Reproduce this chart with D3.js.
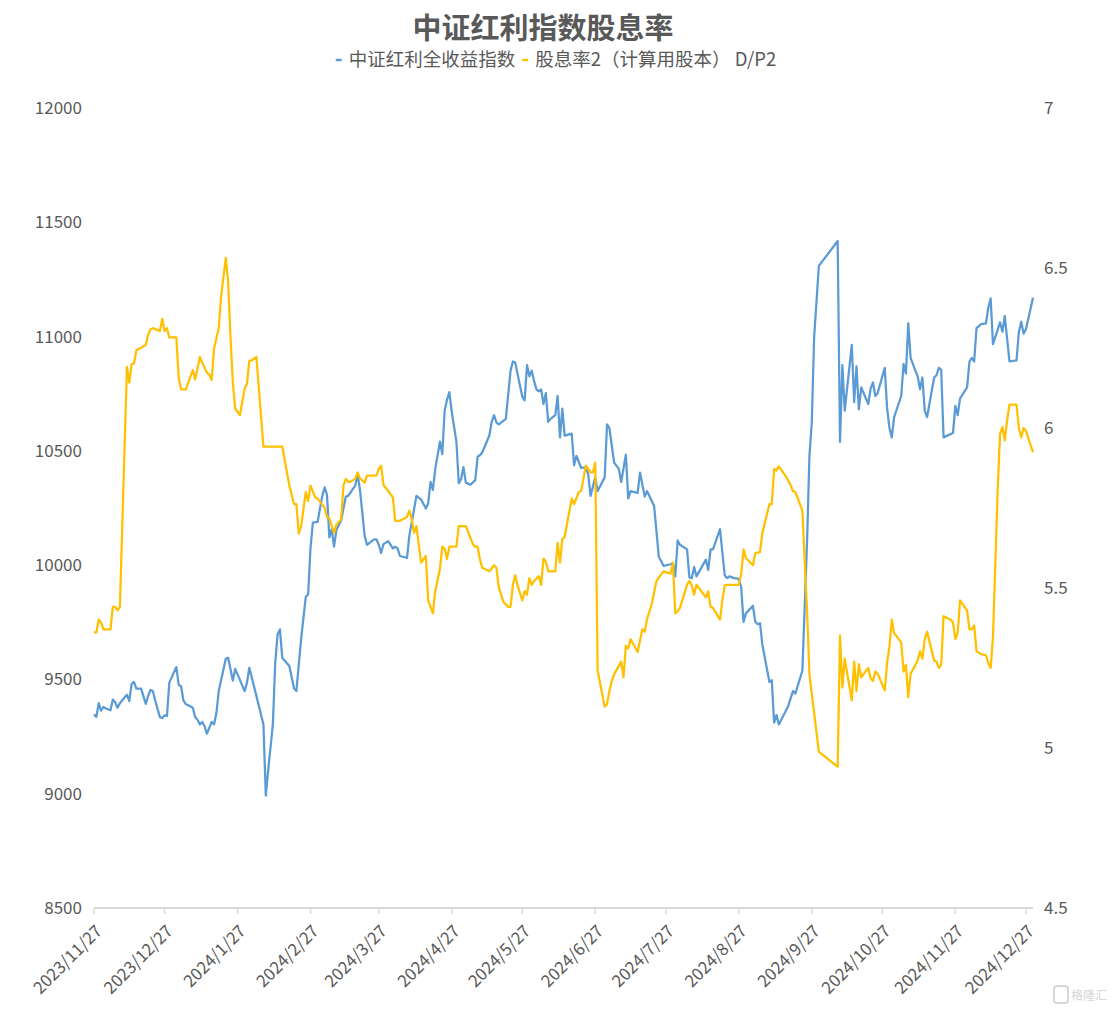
<!DOCTYPE html>
<html>
<head>
<meta charset="utf-8">
<script src="https://cdn.jsdelivr.net/npm/d3@7"></script>
<style>
body { margin: 0; background: #fff; }
text { font-family: "Noto Sans CJK SC", "Noto Sans", sans-serif; fill: #595959; }
</style>
</head>
<body>
<svg id="chart"></svg>
<script>
var width = 1115, height = 1009

var title = "中证红利指数股息率"
var seriesNames = ["中证红利全收益指数", "股息率2（计算用股本） D/P2"]
var seriesColors = ["#5b9bd5", "#ffc000"]

var xTickLabels = ["2023/11/27", "2023/12/27", "2024/1/27", "2024/2/27", "2024/3/27", "2024/4/27",
    "2024/5/27", "2024/6/27", "2024/7/27", "2024/8/27", "2024/9/27", "2024/10/27", "2024/11/27", "2024/12/27"]
var leftTicks = [8500, 9000, 9500, 10000, 10500, 11000, 11500, 12000]
var rightTicks = [4.5, 5, 5.5, 6, 6.5, 7]

// 中证红利全收益指数
var indexData = [
    ["2023-11-27", 9347], ["2023-11-28", 9336], ["2023-11-29", 9396], ["2023-11-30", 9363], ["2023-12-01", 9380],
    ["2023-12-02", 9373], ["2023-12-04", 9365], ["2023-12-05", 9412], ["2023-12-06", 9400], ["2023-12-07", 9376],
    ["2023-12-08", 9396], ["2023-12-10", 9421], ["2023-12-11", 9433], ["2023-12-12", 9405], ["2023-12-13", 9481],
    ["2023-12-14", 9489], ["2023-12-15", 9460], ["2023-12-17", 9460], ["2023-12-19", 9393], ["2023-12-20", 9428],
    ["2023-12-21", 9454], ["2023-12-22", 9449], ["2023-12-23", 9408], ["2023-12-25", 9335], ["2023-12-26", 9331],
    ["2023-12-27", 9343], ["2023-12-28", 9340], ["2023-12-29", 9486], ["2024-01-01", 9554], ["2024-01-02", 9476],
    ["2024-01-03", 9470], ["2024-01-04", 9408], ["2024-01-05", 9392], ["2024-01-08", 9376], ["2024-01-09", 9335],
    ["2024-01-10", 9324], ["2024-01-11", 9303], ["2024-01-12", 9314], ["2024-01-13", 9295], ["2024-01-14", 9263],
    ["2024-01-16", 9314], ["2024-01-17", 9303], ["2024-01-18", 9352], ["2024-01-19", 9449], ["2024-01-22", 9590],
    ["2024-01-23", 9595], ["2024-01-25", 9495], ["2024-01-26", 9546], ["2024-01-28", 9498], ["2024-01-30", 9449],
    ["2024-01-31", 9486], ["2024-02-01", 9551], ["2024-02-04", 9428], ["2024-02-07", 9303], ["2024-02-08", 8992],
    ["2024-02-09", 9101], ["2024-02-11", 9303], ["2024-02-12", 9570], ["2024-02-13", 9697], ["2024-02-14", 9719],
    ["2024-02-15", 9595], ["2024-02-18", 9559], ["2024-02-20", 9460], ["2024-02-21", 9449], ["2024-02-23", 9676],
    ["2024-02-25", 9862], ["2024-02-26", 9873], ["2024-02-27", 10076], ["2024-02-28", 10186], ["2024-03-01", 10189],
    ["2024-03-03", 10303], ["2024-03-04", 10340], ["2024-03-05", 10308], ["2024-03-06", 10121], ["2024-03-07", 10157],
    ["2024-03-08", 10081], ["2024-03-09", 10154], ["2024-03-11", 10195], ["2024-03-13", 10300], ["2024-03-14", 10303],
    ["2024-03-17", 10348], ["2024-03-18", 10397], ["2024-03-19", 10332], ["2024-03-21", 10129], ["2024-03-22", 10089],
    ["2024-03-25", 10113], ["2024-03-26", 10113], ["2024-03-27", 10089], ["2024-03-28", 10053], ["2024-03-29", 10092],
    ["2024-03-31", 10105], ["2024-04-02", 10073], ["2024-04-03", 10081], ["2024-04-04", 10073], ["2024-04-05", 10040],
    ["2024-04-08", 10032], ["2024-04-09", 10129], ["2024-04-10", 10186], ["2024-04-12", 10303], ["2024-04-14", 10287],
    ["2024-04-16", 10248], ["2024-04-17", 10271], ["2024-04-18", 10364], ["2024-04-19", 10329], ["2024-04-20", 10421],
    ["2024-04-22", 10540], ["2024-04-23", 10486], ["2024-04-24", 10676], ["2024-04-25", 10724], ["2024-04-26", 10757],
    ["2024-04-27", 10672], ["2024-04-29", 10539], ["2024-04-30", 10359], ["2024-05-01", 10377], ["2024-05-02", 10429],
    ["2024-05-03", 10361], ["2024-05-05", 10352], ["2024-05-07", 10372], ["2024-05-08", 10474], ["2024-05-09", 10481],
    ["2024-05-10", 10494], ["2024-05-13", 10567], ["2024-05-14", 10627], ["2024-05-15", 10656], ["2024-05-16", 10624],
    ["2024-05-17", 10616], ["2024-05-20", 10640], ["2024-05-22", 10851], ["2024-05-23", 10891], ["2024-05-24", 10886],
    ["2024-05-25", 10835], ["2024-05-27", 10737], ["2024-05-28", 10721], ["2024-05-29", 10875], ["2024-05-30", 10826],
    ["2024-05-31", 10851], ["2024-06-01", 10805], ["2024-06-02", 10769], ["2024-06-03", 10760], ["2024-06-04", 10769],
    ["2024-06-05", 10705], ["2024-06-06", 10753], ["2024-06-07", 10627], ["2024-06-08", 10640], ["2024-06-10", 10656],
    ["2024-06-11", 10740], ["2024-06-12", 10559], ["2024-06-13", 10685], ["2024-06-14", 10567], ["2024-06-17", 10575],
    ["2024-06-18", 10437], ["2024-06-19", 10478], ["2024-06-21", 10425], ["2024-06-23", 10429], ["2024-06-24", 10397],
    ["2024-06-25", 10303], ["2024-06-27", 10384], ["2024-06-28", 10324], ["2024-07-01", 10384], ["2024-07-02", 10616],
    ["2024-07-03", 10600], ["2024-07-05", 10449], ["2024-07-07", 10421], ["2024-07-08", 10364], ["2024-07-10", 10483],
    ["2024-07-11", 10292], ["2024-07-12", 10324], ["2024-07-15", 10316], ["2024-07-16", 10405], ["2024-07-18", 10300],
    ["2024-07-19", 10324], ["2024-07-22", 10259], ["2024-07-24", 10037], ["2024-07-26", 9997], ["2024-07-29", 10004],
    ["2024-07-30", 10008], ["2024-07-31", 9951], ["2024-08-01", 10108], ["2024-08-02", 10089], ["2024-08-05", 10069],
    ["2024-08-06", 9946], ["2024-08-07", 9943], ["2024-08-08", 9992], ["2024-08-09", 9951], ["2024-08-13", 10024],
    ["2024-08-14", 9979], ["2024-08-15", 10069], ["2024-08-16", 10069], ["2024-08-19", 10157], ["2024-08-20", 10057],
    ["2024-08-21", 9956], ["2024-08-22", 9943], ["2024-08-23", 9951], ["2024-08-25", 9943], ["2024-08-27", 9940],
    ["2024-08-28", 9903], ["2024-08-29", 9752], ["2024-08-30", 9789], ["2024-09-02", 9822], ["2024-09-03", 9752],
    ["2024-09-04", 9741], ["2024-09-05", 9746], ["2024-09-06", 9652], ["2024-09-09", 9489], ["2024-09-10", 9497],
    ["2024-09-11", 9311], ["2024-09-12", 9344], ["2024-09-13", 9303], ["2024-09-16", 9363], ["2024-09-17", 9384],
    ["2024-09-18", 9417], ["2024-09-19", 9449], ["2024-09-20", 9438], ["2024-09-23", 9538], ["2024-09-25", 10105],
    ["2024-09-26", 10478], ["2024-09-27", 10624], ["2024-09-28", 10996], ["2024-09-30", 11309], ["2024-10-08", 11418],
    ["2024-10-09", 10539], ["2024-10-10", 10875], ["2024-10-11", 10676], ["2024-10-14", 10964], ["2024-10-15", 10713],
    ["2024-10-16", 10870], ["2024-10-17", 10681], ["2024-10-18", 10778], ["2024-10-21", 10705], ["2024-10-22", 10773],
    ["2024-10-23", 10799], ["2024-10-24", 10740], ["2024-10-25", 10753], ["2024-10-28", 10863], ["2024-10-29", 10688],
    ["2024-10-30", 10600], ["2024-10-31", 10559], ["2024-11-01", 10648], ["2024-11-04", 10740], ["2024-11-05", 10880],
    ["2024-11-06", 10838], ["2024-11-07", 11058], ["2024-11-08", 10907], ["2024-11-10", 10851], ["2024-11-11", 10826],
    ["2024-11-12", 10769], ["2024-11-13", 10821], ["2024-11-14", 10676], ["2024-11-15", 10648], ["2024-11-18", 10821],
    ["2024-11-19", 10831], ["2024-11-20", 10863], ["2024-11-21", 10854], ["2024-11-22", 10559], ["2024-11-26", 10578],
    ["2024-11-27", 10697], ["2024-11-28", 10656], ["2024-11-29", 10729], ["2024-12-02", 10778], ["2024-12-03", 10891],
    ["2024-12-04", 10907], ["2024-12-05", 10891], ["2024-12-06", 11037], ["2024-12-08", 11054], ["2024-12-10", 11058],
    ["2024-12-11", 11126], ["2024-12-12", 11167], ["2024-12-13", 10967], ["2024-12-16", 11062], ["2024-12-17", 11021],
    ["2024-12-18", 11090], ["2024-12-20", 10891], ["2024-12-23", 10896], ["2024-12-24", 11021], ["2024-12-25", 11065],
    ["2024-12-26", 11013], ["2024-12-27", 11032], ["2024-12-30", 11170]
]

// 股息率2（计算用股本） D/P2, %
var yieldData = [
    ["2023-11-27", 5.361], ["2023-11-28", 5.361], ["2023-11-29", 5.401], ["2023-11-30", 5.392], ["2023-12-01", 5.371],
    ["2023-12-04", 5.371], ["2023-12-05", 5.441], ["2023-12-06", 5.441], ["2023-12-07", 5.430], ["2023-12-08", 5.441],
    ["2023-12-11", 6.191], ["2023-12-12", 6.142], ["2023-12-13", 6.200], ["2023-12-14", 6.202], ["2023-12-15", 6.243],
    ["2023-12-17", 6.251], ["2023-12-19", 6.260], ["2023-12-20", 6.291], ["2023-12-21", 6.308], ["2023-12-22", 6.312],
    ["2023-12-25", 6.303], ["2023-12-26", 6.341], ["2023-12-27", 6.303], ["2023-12-28", 6.312], ["2023-12-29", 6.283],
    ["2024-01-01", 6.283], ["2024-01-02", 6.156], ["2024-01-03", 6.121], ["2024-01-05", 6.121], ["2024-01-08", 6.181],
    ["2024-01-09", 6.152], ["2024-01-11", 6.222], ["2024-01-12", 6.204], ["2024-01-14", 6.173], ["2024-01-15", 6.167],
    ["2024-01-16", 6.150], ["2024-01-17", 6.248], ["2024-01-18", 6.280], ["2024-01-19", 6.312], ["2024-01-20", 6.410],
    ["2024-01-22", 6.532], ["2024-01-23", 6.457], ["2024-01-24", 6.283], ["2024-01-25", 6.142], ["2024-01-26", 6.061],
    ["2024-01-28", 6.040], ["2024-01-30", 6.123], ["2024-01-31", 6.138], ["2024-02-01", 6.210], ["2024-02-02", 6.211],
    ["2024-02-04", 6.222], ["2024-02-07", 5.942], ["2024-02-15", 5.942], ["2024-02-18", 5.820], ["2024-02-20", 5.762],
    ["2024-02-21", 5.762], ["2024-02-22", 5.670], ["2024-02-23", 5.693], ["2024-02-25", 5.800], ["2024-02-26", 5.772],
    ["2024-02-27", 5.820], ["2024-02-29", 5.783], ["2024-03-01", 5.780], ["2024-03-02", 5.770], ["2024-03-04", 5.751],
    ["2024-03-05", 5.722], ["2024-03-06", 5.718], ["2024-03-08", 5.672], ["2024-03-09", 5.699], ["2024-03-11", 5.714],
    ["2024-03-12", 5.820], ["2024-03-13", 5.841], ["2024-03-14", 5.832], ["2024-03-15", 5.832], ["2024-03-17", 5.841],
    ["2024-03-18", 5.861], ["2024-03-19", 5.843], ["2024-03-21", 5.829], ["2024-03-22", 5.851], ["2024-03-26", 5.851],
    ["2024-03-27", 5.872], ["2024-03-28", 5.882], ["2024-03-29", 5.822], ["2024-03-31", 5.803], ["2024-04-02", 5.783],
    ["2024-04-03", 5.710], ["2024-04-05", 5.710], ["2024-04-08", 5.722], ["2024-04-09", 5.742], ["2024-04-10", 5.716],
    ["2024-04-11", 5.672], ["2024-04-12", 5.693], ["2024-04-14", 5.579], ["2024-04-16", 5.600], ["2024-04-17", 5.461],
    ["2024-04-19", 5.421], ["2024-04-20", 5.490], ["2024-04-22", 5.560], ["2024-04-23", 5.629], ["2024-04-24", 5.623],
    ["2024-04-25", 5.591], ["2024-04-26", 5.629], ["2024-04-29", 5.629], ["2024-04-30", 5.693], ["2024-05-03", 5.693],
    ["2024-05-04", 5.675], ["2024-05-06", 5.637], ["2024-05-07", 5.629], ["2024-05-08", 5.629], ["2024-05-09", 5.589],
    ["2024-05-10", 5.563], ["2024-05-13", 5.552], ["2024-05-15", 5.571], ["2024-05-16", 5.563], ["2024-05-17", 5.502],
    ["2024-05-18", 5.479], ["2024-05-19", 5.456], ["2024-05-21", 5.441], ["2024-05-22", 5.441], ["2024-05-23", 5.510],
    ["2024-05-24", 5.540], ["2024-05-25", 5.508], ["2024-05-27", 5.461], ["2024-05-28", 5.490], ["2024-05-29", 5.479],
    ["2024-05-30", 5.531], ["2024-05-31", 5.510], ["2024-06-01", 5.522], ["2024-06-03", 5.537], ["2024-06-04", 5.510],
    ["2024-06-05", 5.592], ["2024-06-06", 5.583], ["2024-06-07", 5.552], ["2024-06-10", 5.552], ["2024-06-11", 5.641],
    ["2024-06-12", 5.579], ["2024-06-13", 5.652], ["2024-06-14", 5.660], ["2024-06-17", 5.780], ["2024-06-18", 5.762],
    ["2024-06-20", 5.800], ["2024-06-21", 5.803], ["2024-06-23", 5.882], ["2024-06-25", 5.861], ["2024-06-26", 5.861],
    ["2024-06-27", 5.892], ["2024-06-28", 5.242], ["2024-07-01", 5.129], ["2024-07-02", 5.137], ["2024-07-03", 5.178],
    ["2024-07-04", 5.209], ["2024-07-05", 5.230], ["2024-07-08", 5.270], ["2024-07-09", 5.221], ["2024-07-10", 5.320],
    ["2024-07-11", 5.311], ["2024-07-12", 5.340], ["2024-07-15", 5.300], ["2024-07-17", 5.371], ["2024-07-18", 5.363],
    ["2024-07-19", 5.403], ["2024-07-21", 5.450], ["2024-07-23", 5.522], ["2024-07-26", 5.552], ["2024-07-29", 5.545],
    ["2024-07-30", 5.579], ["2024-07-31", 5.421], ["2024-08-01", 5.427], ["2024-08-02", 5.438], ["2024-08-05", 5.510],
    ["2024-08-06", 5.522], ["2024-08-07", 5.508], ["2024-08-08", 5.479], ["2024-08-09", 5.510], ["2024-08-13", 5.471],
    ["2024-08-14", 5.490], ["2024-08-15", 5.441], ["2024-08-16", 5.438], ["2024-08-19", 5.401], ["2024-08-20", 5.461],
    ["2024-08-21", 5.508], ["2024-08-22", 5.510], ["2024-08-27", 5.510], ["2024-08-28", 5.543], ["2024-08-29", 5.621],
    ["2024-08-30", 5.594], ["2024-09-02", 5.571], ["2024-09-03", 5.609], ["2024-09-05", 5.612], ["2024-09-06", 5.672],
    ["2024-09-09", 5.762], ["2024-09-10", 5.762], ["2024-09-11", 5.872], ["2024-09-12", 5.867], ["2024-09-13", 5.880],
    ["2024-09-16", 5.849], ["2024-09-18", 5.822], ["2024-09-19", 5.803], ["2024-09-20", 5.800], ["2024-09-23", 5.742],
    ["2024-09-25", 5.427], ["2024-09-26", 5.230], ["2024-09-30", 4.989], ["2024-10-08", 4.941], ["2024-10-09", 5.351],
    ["2024-10-10", 5.189], ["2024-10-11", 5.279], ["2024-10-14", 5.149], ["2024-10-15", 5.270], ["2024-10-16", 5.178],
    ["2024-10-17", 5.262], ["2024-10-18", 5.221], ["2024-10-21", 5.250], ["2024-10-22", 5.218], ["2024-10-23", 5.209],
    ["2024-10-24", 5.239], ["2024-10-25", 5.232], ["2024-10-28", 5.180], ["2024-10-29", 5.267], ["2024-10-30", 5.317],
    ["2024-10-31", 5.401], ["2024-11-01", 5.359], ["2024-11-04", 5.330], ["2024-11-05", 5.239], ["2024-11-06", 5.259],
    ["2024-11-07", 5.158], ["2024-11-08", 5.232], ["2024-11-10", 5.259], ["2024-11-11", 5.274], ["2024-11-12", 5.302],
    ["2024-11-13", 5.279], ["2024-11-14", 5.340], ["2024-11-15", 5.363], ["2024-11-18", 5.273], ["2024-11-19", 5.270],
    ["2024-11-20", 5.250], ["2024-11-21", 5.259], ["2024-11-22", 5.412], ["2024-11-25", 5.401], ["2024-11-26", 5.392],
    ["2024-11-27", 5.340], ["2024-11-28", 5.359], ["2024-11-29", 5.461], ["2024-12-02", 5.429], ["2024-12-03", 5.371],
    ["2024-12-04", 5.371], ["2024-12-05", 5.383], ["2024-12-06", 5.302], ["2024-12-08", 5.293], ["2024-12-10", 5.290],
    ["2024-12-11", 5.265], ["2024-12-12", 5.250], ["2024-12-13", 5.346], ["2024-12-14", 5.577], ["2024-12-15", 5.808],
    ["2024-12-16", 5.982], ["2024-12-17", 6.003], ["2024-12-18", 5.961], ["2024-12-19", 6.023], ["2024-12-20", 6.073],
    ["2024-12-23", 6.073], ["2024-12-24", 6.000], ["2024-12-25", 5.971], ["2024-12-26", 6.000], ["2024-12-27", 5.990],
    ["2024-12-30", 5.924]
]

var parseDate = d3.timeParse("%Y-%m-%d")
var parseTick = d3.timeParse("%Y/%m/%d")

var margin = { left: 94, right: 82, top: 108, bottom: 101 }
var plotRight = width - margin.right, plotBottom = height - margin.bottom

var svg = d3.select("#chart")
    .attr("width", width)
    .attr("height", height)
    .style("background", "#fff")

var x = d3.scaleTime()
    .domain([parseDate("2023-11-27"), parseDate("2024-12-30")])
    .range([margin.left, plotRight])
var yLeft = d3.scaleLinear().domain([8500, 12000]).range([plotBottom, margin.top])
var yRight = d3.scaleLinear().domain([4.5, 7]).range([plotBottom, margin.top])

// title
svg.append("text")
    .attr("x", 543)
    .attr("y", 39)
    .attr("text-anchor", "middle")
    .style("font-size", "29px")
    .style("font-weight", "bold")
    .text(title)

// legend
var legend = svg.append("g")
var lx = 0
seriesNames.forEach(function(name, i) {
    var item = legend.append("g").attr("transform", "translate(" + lx + ",0)")
    item.append("line")
        .attr("x1", 0).attr("x2", 6)
        .attr("y1", 0).attr("y2", 0)
        .attr("stroke", seriesColors[i])
        .attr("stroke-width", 2.5)
    var t = item.append("text")
        .attr("x", 13)
        .attr("dy", "0.35em")
        .style("font-size", "18.5px")
        .text(name)
    lx += 13 + t.node().getComputedTextLength() + 7
})
legend.attr("transform", "translate(" + (556 - (lx - 7) / 2) + ",60)")

// left axis labels
svg.append("g").selectAll("text")
    .data(leftTicks)
    .enter()
    .append("text")
        .attr("x", 82)
        .attr("y", function(d) { return yLeft(d) })
        .attr("dy", "0.35em")
        .attr("text-anchor", "end")
        .style("font-size", "17px")
        .text(function(d) { return d })

// right axis labels
svg.append("g").selectAll("text")
    .data(rightTicks)
    .enter()
    .append("text")
        .attr("x", 1044)
        .attr("y", function(d) { return yRight(d) })
        .attr("dy", "0.35em")
        .style("font-size", "17px")
        .text(function(d) { return d })

// bottom axis
var tickDates = xTickLabels.map(parseTick)
var xAxis = svg.append("g")
xAxis.append("line")
    .attr("x1", margin.left).attr("x2", plotRight)
    .attr("y1", plotBottom).attr("y2", plotBottom)
    .attr("stroke", "#d9d9d9")
    .attr("stroke-width", 2)
xAxis.selectAll(".tick")
    .data(tickDates)
    .enter()
    .append("line")
        .attr("class", "tick")
        .attr("x1", function(d) { return x(d) })
        .attr("x2", function(d) { return x(d) })
        .attr("y1", plotBottom)
        .attr("y2", plotBottom + 6)
        .attr("stroke", "#d9d9d9")
        .attr("stroke-width", 1.5)
xAxis.selectAll(".xlabel")
    .data(tickDates)
    .enter()
    .append("text")
        .attr("class", "xlabel")
        .attr("transform", function(d) { return "translate(" + (x(d) + 5) + "," + (plotBottom + 20) + ") rotate(-45)" })
        .attr("dy", "0.35em")
        .attr("text-anchor", "end")
        .style("font-size", "17px")
        .text(function(d, i) { return xTickLabels[i] })

// lines
var lineLeft = d3.line()
    .x(function(d) { return x(parseDate(d[0])) })
    .y(function(d) { return yLeft(d[1]) })
var lineRight = d3.line()
    .x(function(d) { return x(parseDate(d[0])) })
    .y(function(d) { return yRight(d[1]) })

svg.append("path")
    .datum(indexData)
    .attr("d", lineLeft)
    .attr("fill", "none")
    .attr("stroke", seriesColors[0])
    .attr("stroke-width", 2.25)
    .attr("stroke-linejoin", "round")

svg.append("path")
    .datum(yieldData)
    .attr("d", lineRight)
    .attr("fill", "none")
    .attr("stroke", seriesColors[1])
    .attr("stroke-width", 2.25)
    .attr("stroke-linejoin", "round")

// watermark
var wm = svg.append("g").attr("opacity", 0.6)
wm.append("rect")
    .attr("x", 1054).attr("y", 986)
    .attr("width", 14).attr("height", 17)
    .attr("rx", 3)
    .attr("fill", "none")
    .attr("stroke", "#bdbdbd")
    .attr("stroke-width", 2)
wm.append("text")
    .attr("x", 1071)
    .attr("y", 1000)
    .style("font-size", "12px")
    .style("fill", "#bdbdbd")
    .text("格隆汇")
</script>
</body>
</html>
